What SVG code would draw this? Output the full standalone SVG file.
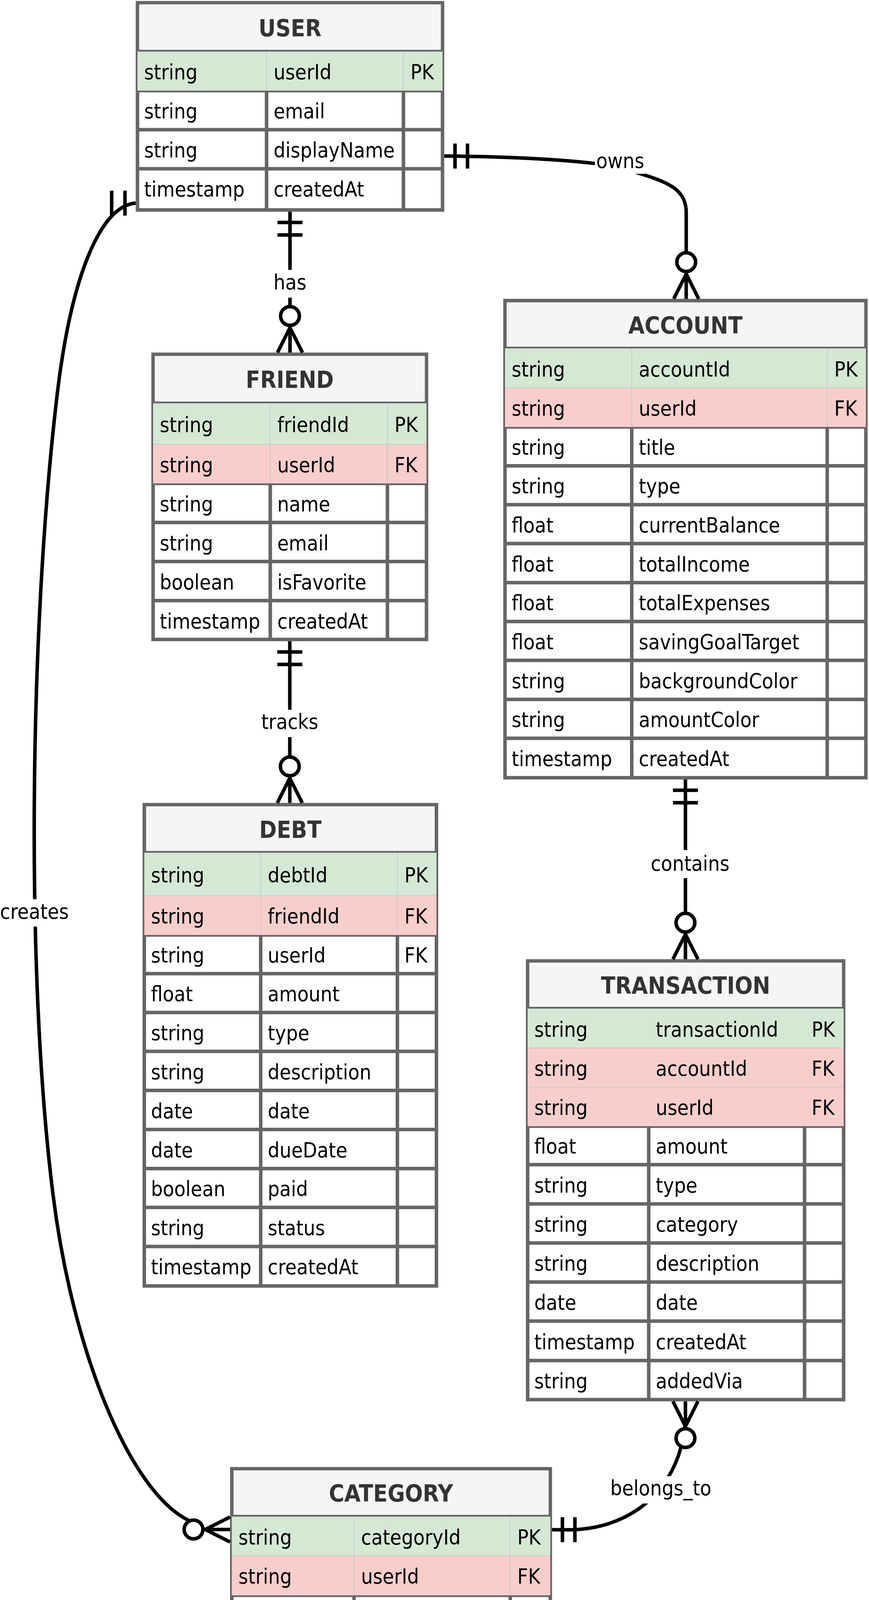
<svg xmlns="http://www.w3.org/2000/svg" width="2225" height="4485" viewBox="0 0 2225 4485">
<style>
.bg{fill:#ffffff}
.tb{fill:#ffffff;stroke:#666666;stroke-width:9}
.hd{fill:#f5f5f5}
.pk{fill:#d5e8d4}
.fk{fill:#f8cecc}
.g{fill:none;stroke:#666666;stroke-width:9}
.th{fill:none;stroke:#c2c2c2;stroke-width:1.5}
text{font-family:"DejaVu Sans Condensed","DejaVu Sans",sans-serif;font-stretch:condensed;font-size:53px;fill:#000000}
.hx{font-weight:bold;font-size:60px;fill:#333333;text-anchor:middle}
.lt{text-anchor:middle}
.ln{fill:none;stroke:#000000;stroke-width:9}
.ci{fill:#ffffff;stroke:#000000;stroke-width:9}
.lb{fill:#ffffff}
</style>
<rect class="bg" x="0" y="0" width="2225" height="4485"/>

<g id="user">
<rect class="tb" x="352" y="7" width="781" height="530.5"/>
<rect class="hd" x="356.5" y="11.5" width="772" height="120.5"/>
<path class="g" d="M352,132H1133M352,232H1133M352,332H1133M352,432H1133M682.5,232V537.5M1033,232V537.5"/>
<rect class="pk" x="352" y="132" width="781" height="100"/>
<path class="th" d="M682.5,132V232M1033,132V232"/>
<text class="hx" x="742.5" y="92.5">USER</text>
<text x="369" y="203">string</text><text x="700.5" y="203">userId</text><text x="1051" y="203">PK</text>
<text x="369" y="303">string</text><text x="700.5" y="303">email</text>
<text x="369" y="403">string</text><text x="700.5" y="403">displayName</text>
<text x="369" y="503">timestamp</text><text x="700.5" y="503">createdAt</text>
</g>

<g id="friend">
<rect class="tb" x="392" y="907" width="700" height="730"/>
<rect class="hd" x="396.5" y="911.5" width="691" height="121"/>
<path class="g" d="M392,1032.5H1092M392,1237.5H1092M392,1337.5H1092M392,1437.5H1092M392,1537.5H1092M692,1237.5V1637M992,1237.5V1637"/>
<rect class="pk" x="392" y="1032.5" width="700" height="105"/>
<rect class="fk" x="392" y="1137.5" width="700" height="100"/>
<path class="th" d="M692,1032.5V1237.5M992,1032.5V1237.5M392,1137.5H1092"/>
<text class="hx" x="742" y="992.5">FRIEND</text>
<text x="409" y="1106">string</text><text x="710" y="1106">friendId</text><text x="1010" y="1106">PK</text>
<text x="409" y="1208.5">string</text><text x="710" y="1208.5">userId</text><text x="1010" y="1208.5">FK</text>
<text x="409" y="1308.5">string</text><text x="710" y="1308.5">name</text>
<text x="409" y="1408.5">string</text><text x="710" y="1408.5">email</text>
<text x="409" y="1508.5">boolean</text><text x="710" y="1508.5">isFavorite</text>
<text x="409" y="1608.5">timestamp</text><text x="710" y="1608.5">createdAt</text>
</g>

<g id="debt">
<rect class="tb" x="369.5" y="2060" width="748" height="1232"/>
<rect class="hd" x="374" y="2064.5" width="739" height="118.5"/>
<path class="g" d="M369.5,2183H1117.5M369.5,2393.5H1117.5M369.5,2492.5H1117.5M369.5,2592H1117.5M369.5,2691.5H1117.5M369.5,2791.5H1117.5M369.5,2891.5H1117.5M369.5,2991.5H1117.5M369.5,3091H1117.5M369.5,3191H1117.5M667.5,2393.5V3292M1017.5,2393.5V3292"/>
<rect class="pk" x="369.5" y="2183" width="748" height="110"/>
<rect class="fk" x="369.5" y="2293" width="748" height="100.5"/>
<path class="th" d="M667.5,2183V2393.5M1017.5,2183V2393.5M369.5,2293H1117.5"/>
<text class="hx" x="743.5" y="2144.5">DEBT</text>
<text x="386.5" y="2259">string</text><text x="685.5" y="2259">debtId</text><text x="1035.5" y="2259">PK</text>
<text x="386.5" y="2364">string</text><text x="685.5" y="2364">friendId</text><text x="1035.5" y="2364">FK</text>
<text x="386.5" y="2464">string</text><text x="685.5" y="2464">userId</text><text x="1035.5" y="2464">FK</text>
<text x="386.5" y="2563">float</text><text x="685.5" y="2563">amount</text>
<text x="386.5" y="2663">string</text><text x="685.5" y="2663">type</text>
<text x="386.5" y="2762.5">string</text><text x="685.5" y="2762.5">description</text>
<text x="386.5" y="2862.5">date</text><text x="685.5" y="2862.5">date</text>
<text x="386.5" y="2962.5">date</text><text x="685.5" y="2962.5">dueDate</text>
<text x="386.5" y="3062">boolean</text><text x="685.5" y="3062">paid</text>
<text x="386.5" y="3162">string</text><text x="685.5" y="3162">status</text>
<text x="386.5" y="3262">timestamp</text><text x="685.5" y="3262">createdAt</text>
</g>

<g id="account">
<rect class="tb" x="1293" y="769.5" width="924" height="1221.5"/>
<rect class="hd" x="1297.5" y="774" width="915" height="118"/>
<path class="g" d="M1293,892H2217M1293,1093H2217M1293,1192.5H2217M1293,1292H2217M1293,1391.5H2217M1293,1491.5H2217M1293,1591H2217M1293,1690.5H2217M1293,1790.5H2217M1293,1890H2217M1617.5,1093V1991M2118,1093V1991"/>
<rect class="pk" x="1293" y="892" width="924" height="101"/>
<rect class="fk" x="1293" y="993" width="924" height="100"/>
<path class="th" d="M1617.5,892V1093M2118,892V1093M1293,993H2217"/>
<text class="hx" x="1755" y="853.5">ACCOUNT</text>
<text x="1310" y="963.5">string</text><text x="1635.5" y="963.5">accountId</text><text x="2136" y="963.5">PK</text>
<text x="1310" y="1064">string</text><text x="1635.5" y="1064">userId</text><text x="2136" y="1064">FK</text>
<text x="1310" y="1164">string</text><text x="1635.5" y="1164">title</text>
<text x="1310" y="1263">string</text><text x="1635.5" y="1263">type</text>
<text x="1310" y="1363">float</text><text x="1635.5" y="1363">currentBalance</text>
<text x="1310" y="1462.5">float</text><text x="1635.5" y="1462.5">totalIncome</text>
<text x="1310" y="1562">float</text><text x="1635.5" y="1562">totalExpenses</text>
<text x="1310" y="1662">float</text><text x="1635.5" y="1662">savingGoalTarget</text>
<text x="1310" y="1761.5">string</text><text x="1635.5" y="1761.5">backgroundColor</text>
<text x="1310" y="1861">string</text><text x="1635.5" y="1861">amountColor</text>
<text x="1310" y="1961">timestamp</text><text x="1635.5" y="1961">createdAt</text>
</g>

<g id="transaction">
<rect class="tb" x="1351" y="2460" width="809" height="1123"/>
<rect class="hd" x="1355.5" y="2464.5" width="800" height="117.5"/>
<path class="g" d="M1351,2582H2160M1351,2883H2160M1351,2981.5H2160M1351,3082H2160M1351,3182H2160M1351,3282H2160M1351,3382H2160M1351,3483H2160M1661,2883V3583M2060,2883V3583"/>
<rect class="pk" x="1351" y="2582" width="809" height="101"/>
<rect class="fk" x="1351" y="2683" width="809" height="100"/>
<rect class="fk" x="1351" y="2783" width="809" height="100"/>
<path class="th" d="M1351,2683H2160M1351,2783H2160"/>
<text class="hx" x="1755.5" y="2544">TRANSACTION</text>
<text x="1368" y="2653.5">string</text><text x="1679" y="2653.5">transactionId</text><text x="2078" y="2653.5">PK</text>
<text x="1368" y="2754">string</text><text x="1679" y="2754">accountId</text><text x="2078" y="2754">FK</text>
<text x="1368" y="2854">string</text><text x="1679" y="2854">userId</text><text x="2078" y="2854">FK</text>
<text x="1368" y="2953">float</text><text x="1679" y="2953">amount</text>
<text x="1368" y="3053">string</text><text x="1679" y="3053">type</text>
<text x="1368" y="3153">string</text><text x="1679" y="3153">category</text>
<text x="1368" y="3253">string</text><text x="1679" y="3253">description</text>
<text x="1368" y="3353">date</text><text x="1679" y="3353">date</text>
<text x="1368" y="3453.5">timestamp</text><text x="1679" y="3453.5">createdAt</text>
<text x="1368" y="3554">string</text><text x="1679" y="3554">addedVia</text>
</g>

<g id="category">
<rect class="tb" x="593.5" y="3760" width="815.5" height="718"/>
<rect class="hd" x="598" y="3764.5" width="806.5" height="118"/>
<path class="g" d="M593.5,3882.5H1409M593.5,4084H1409M593.5,4183H1409M593.5,4282.5H1409M593.5,4382H1409M906.5,4084V4478M1306.5,4084V4478"/>
<rect class="pk" x="593.5" y="3882.5" width="815.5" height="100"/>
<rect class="fk" x="593.5" y="3982.5" width="815.5" height="101.5"/>
<path class="th" d="M906.5,3882.5V4084M1306.5,3882.5V4084M593.5,3982.5H1409"/>
<text class="hx" x="1001" y="3844">CATEGORY</text>
<text x="610.5" y="3953.5">string</text><text x="924.5" y="3953.5">categoryId</text><text x="1324.5" y="3953.5">PK</text>
<text x="610.5" y="4054">string</text><text x="924.5" y="4054">userId</text><text x="1324.5" y="4054">FK</text>
<text x="610.5" y="4154.5">string</text><text x="924.5" y="4154.5">name</text>
<text x="610.5" y="4254">string</text><text x="924.5" y="4254">color</text>
<text x="610.5" y="4353">timestamp</text><text x="924.5" y="4353">createdAt</text>
<text x="610.5" y="4453">timestamp</text><text x="924.5" y="4453">lastUpdated</text>
</g>

<g id="connectors">
<g id="e-has">
<path class="ln" d="M742.5,542V902.5M710.5,569.5H774.5M710.5,601.5H774.5M710.5,902.5L742.5,839L774.5,902.5"/>
<circle class="ci" cx="742.5" cy="809" r="24"/>
<rect class="lb" x="699" y="691" width="87" height="71"/>
<text class="lt" x="742.5" y="741">has</text>
</g>
<g id="e-tracks">
<path class="ln" d="M742,1641.5V2055.5M710,1669H774M710,1701H774M710,2055.5L742,1992L774,2055.5"/>
<circle class="ci" cx="742" cy="1962" r="24"/>
<rect class="lb" x="667" y="1817" width="150" height="70"/>
<text class="lt" x="742" y="1865.5">tracks</text>
</g>
<g id="e-contains">
<path class="ln" d="M1755,1995.5V2455.5M1723,2023H1787M1723,2055H1787M1723,2455.5L1755,2392L1787,2455.5"/>
<circle class="ci" cx="1755" cy="2362" r="24"/>
<rect class="lb" x="1664" y="2176" width="206" height="72"/>
<text class="lt" x="1767" y="2229">contains</text>
</g>
<g id="e-owns">
<path class="ln" d="M1137.5,399.5C1330,401 1450,410 1525,418.6C1580,425 1612,436 1647.7,447.3C1720,470 1757,490 1757,545V765M1165,367.5V431.5M1197,367.5V431.5M1725,765L1757,701.5L1789,765"/>
<circle class="ci" cx="1757" cy="671" r="24"/>
<rect class="lb" x="1523" y="381" width="129" height="64"/>
<text class="lt" x="1588" y="430">owns</text>
</g>
<g id="e-creates">
<path class="ln" d="M347.5,520C258,526 183,705 147,1005C77.4,1585 63,2480 136,3060C186,3460 331.6,3816.5 481.6,3891.5L495,3915M320,488V552M286,488V552M589,3883.5L525.5,3915.5L589,3947.5M525.5,3915.5H589"/>
<circle class="ci" cx="495.5" cy="3915.5" r="24"/>
<rect class="lb" x="0" y="2302" width="178" height="70"/>
<text class="lt" x="88" y="2352">creates</text>
</g>
<g id="e-belongs_to">
<path class="ln" d="M1755,3587.5V3640C1745,3760 1680,3860 1560,3900C1500,3920 1450,3916 1413.5,3916M1440,3884V3948M1472,3884V3948M1723,3587.5L1755,3651.5L1787,3587.5"/>
<circle class="ci" cx="1755" cy="3681.5" r="24"/>
<rect class="lb" x="1556" y="3779" width="272" height="70"/>
<text class="lt" x="1692" y="3827.5">belongs_to</text>
</g>
</g>
</svg>
